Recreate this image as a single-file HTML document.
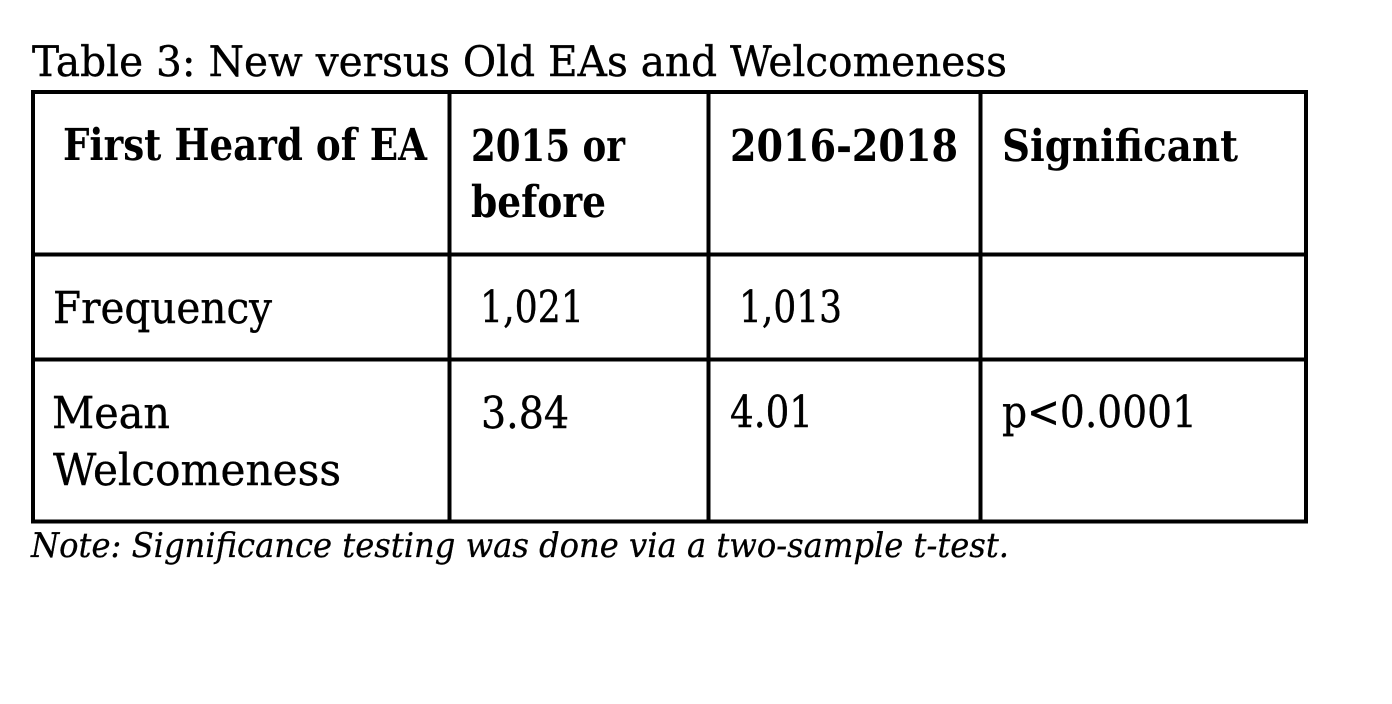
<!DOCTYPE html>
<html>
<head>
<meta charset="utf-8">
<style>
  html, body { margin: 0; padding: 0; background: #ffffff; }
  body { width: 1392px; height: 704px; overflow: hidden; }
  svg { display: block; }
  text { font-family: "DejaVu Serif", "Liberation Serif", serif; fill: #000; }
  .b { font-weight: bold; font-size: 44px; }
  .r { font-size: 44px; stroke: #000; stroke-width: 0.4px; }
  .t { font-size: 42px; stroke: #000; stroke-width: 0.4px; }
  .n { font-size: 34px; font-style: italic; stroke: #000; stroke-width: 0.3px; }
</style>
</head>
<body>
<svg width="1392" height="704" viewBox="0 0 1392 704" xmlns="http://www.w3.org/2000/svg" text-rendering="geometricPrecision">
  <rect x="0" y="0" width="1392" height="704" fill="#fff"/>

  <!-- Title -->
  <text class="t" x="32" y="76" textLength="975" lengthAdjust="spacingAndGlyphs">Table 3: New versus Old EAs and Welcomeness</text>

  <!-- Table grid -->
  <rect x="33" y="92" width="1273" height="429.5" fill="none" stroke="#000" stroke-width="4"/>
  <line x1="449.5" y1="90" x2="449.5" y2="523.5" stroke="#000" stroke-width="4"/>
  <line x1="708.5" y1="90" x2="708.5" y2="523.5" stroke="#000" stroke-width="4"/>
  <line x1="980.5" y1="90" x2="980.5" y2="523.5" stroke="#000" stroke-width="4"/>
  <line x1="31" y1="254.5" x2="1308" y2="254.5" stroke="#000" stroke-width="4"/>
  <line x1="31" y1="359.5" x2="1308" y2="359.5" stroke="#000" stroke-width="4"/>

  <!-- Header row -->
  <text class="b" x="63" y="160" textLength="364" lengthAdjust="spacingAndGlyphs">First Heard of EA</text>
  <text class="b" x="471" y="161" textLength="154" lengthAdjust="spacingAndGlyphs">2015 or</text>
  <text class="b" x="471" y="217" textLength="135" lengthAdjust="spacingAndGlyphs">before</text>
  <text class="b" x="730" y="161" textLength="228" lengthAdjust="spacingAndGlyphs">2016-2018</text>
  <text class="b" x="1002" y="161" textLength="236" lengthAdjust="spacingAndGlyphs">Significant</text>

  <!-- Frequency row -->
  <text class="r" x="53" y="323" textLength="219" lengthAdjust="spacingAndGlyphs">Frequency</text>
  <text class="r" x="480" y="322" textLength="104" lengthAdjust="spacingAndGlyphs">1,021</text>
  <text class="r" x="739" y="322" textLength="103" lengthAdjust="spacingAndGlyphs">1,013</text>

  <!-- Mean row -->
  <text class="r" x="52" y="428" textLength="118" lengthAdjust="spacingAndGlyphs">Mean</text>
  <text class="r" x="53" y="485" textLength="288" lengthAdjust="spacingAndGlyphs">Welcomeness</text>
  <text class="r" x="481" y="428" textLength="88" lengthAdjust="spacingAndGlyphs">3.84</text>
  <text class="r" x="730" y="427" textLength="83" lengthAdjust="spacingAndGlyphs">4.01</text>
  <text class="r" x="1002" y="427" textLength="195" lengthAdjust="spacingAndGlyphs">p&lt;0.0001</text>

  <!-- Note -->
  <text class="n" x="31" y="557" textLength="978" lengthAdjust="spacingAndGlyphs">Note: Significance testing was done via a two-sample t-test.</text>
</svg>
</body>
</html>
